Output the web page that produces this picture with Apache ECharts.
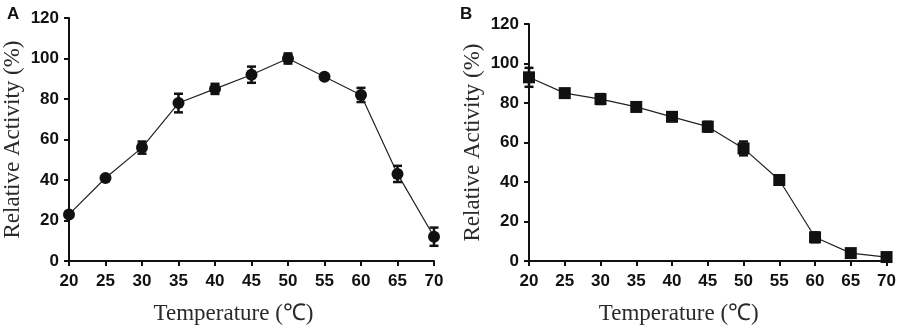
<!DOCTYPE html>
<html>
<head>
<meta charset="utf-8">
<script src="https://cdn.jsdelivr.net/npm/echarts@6/dist/echarts.min.js"></script>
<style>
  html, body { margin: 0; padding: 0; background: #fff; }
  #chart { width: 899px; height: 330px; }
</style>
</head>
<body>
<div id="chart"></div>
<script>
const temps = [20, 25, 30, 35, 40, 45, 50, 55, 60, 65, 70]
const xTicks = [20, 25, 30, 35, 40, 45, 50, 55, 60, 65, 70]
const yTicks = [0, 20, 40, 60, 80, 100, 120]

// A: optimum temperature
const activityA = [23, 41, 56, 78, 85, 92, 100, 91, 82, 43, 12]
const errA = [1, 1, 3, 4.6, 2.5, 4, 2.5, 1, 3.5, 4, 4.5]
// B: thermal stability
const activityB = [93, 85, 82, 78, 73, 68, 57, 41, 12, 4, 2]
const errB = [4.8, 1, 2.5, 1, 1, 2.5, 3.5, 1, 2.5, 1, 1]

const chart = echarts.init(document.getElementById('chart'))

const tickFont = { fontFamily: 'Liberation Sans, Arial', fontWeight: 'bold', fontSize: 17, color: '#111' }
const nameFont = { fontFamily: 'Liberation Serif, Times New Roman, serif', fontSize: 23, color: '#2a2a2a' }

// shift: how far the x-axis title sits left of the axis centre
function xAxis(idx, shift) {
  return {
    gridIndex: idx, type: 'value', min: xTicks[0], max: xTicks[xTicks.length - 1], interval: 5,
    name: 'Temperature (℃)', nameLocation: 'middle', nameGap: 41,
    nameTextStyle: { ...nameFont, padding: [0, shift * 2, 0, 0] },
    axisLine: { lineStyle: { color: '#111', width: 2 } },
    axisTick: { length: 5, lineStyle: { color: '#111', width: 2 } },
    axisLabel: { ...tickFont, margin: 12 },
    splitLine: { show: false },
  }
}
function yAxis(idx) {
  return {
    gridIndex: idx, type: 'value', min: yTicks[0], max: yTicks[yTicks.length - 1], interval: 20,
    name: 'Relative Activity (%)', nameLocation: 'middle', nameGap: 45, nameTextStyle: nameFont,
    axisLine: { show: true, lineStyle: { color: '#111', width: 2 } },
    axisTick: { show: true, length: 5, lineStyle: { color: '#111', width: 2 } },
    axisLabel: { ...tickFont, margin: 10 },
    splitLine: { show: false },
  }
}

function errorSeries(idx, vals, errs) {
  return {
    type: 'custom', xAxisIndex: idx, yAxisIndex: idx, z: 3,
    data: temps.map((t, i) => [t, vals[i] - errs[i], vals[i] + errs[i]]),
    renderItem(params, api) {
      const lo = api.coord([api.value(0), api.value(1)])
      const hi = api.coord([api.value(0), api.value(2)])
      const w = 4.5
      const style = { stroke: '#111', lineWidth: 2.5 }
      return {
        type: 'group',
        children: [
          { type: 'line', shape: { x1: lo[0], y1: lo[1], x2: hi[0], y2: hi[1] }, style },
          { type: 'line', shape: { x1: lo[0] - w, y1: lo[1], x2: lo[0] + w, y2: lo[1] }, style },
          { type: 'line', shape: { x1: hi[0] - w, y1: hi[1], x2: hi[0] + w, y2: hi[1] }, style },
        ],
      }
    },
  }
}

function lineSeries(idx, vals, symbol, size) {
  return {
    type: 'line', xAxisIndex: idx, yAxisIndex: idx, z: 4,
    data: temps.map((t, i) => [t, vals[i]]),
    symbol, symbolSize: size, showAllSymbol: true,
    lineStyle: { color: '#222', width: 1.2 },
    itemStyle: { color: '#111' },
  }
}

chart.setOption({
  animation: false,
  title: [
    { text: 'A', left: 2, top: 1, textStyle: { fontFamily: 'Liberation Sans, Arial', fontWeight: 'bold', fontSize: 17, color: '#111' } },
    { text: 'B', left: 455, top: 1, textStyle: { fontFamily: 'Liberation Sans, Arial', fontWeight: 'bold', fontSize: 17, color: '#111' } },
  ],
  grid: [
    { left: 69, right: 465, top: 18, bottom: 68 },
    { left: 529, right: 9, top: 24, bottom: 66 },
  ],
  xAxis: [xAxis(0, 18), xAxis(1, 29)],
  yAxis: [yAxis(0), yAxis(1)],
  series: [
    errorSeries(0, activityA, errA),
    lineSeries(0, activityA, 'circle', 12),
    errorSeries(1, activityB, errB),
    lineSeries(1, activityB, 'rect', 12),
  ],
})
</script>
</body>
</html>
